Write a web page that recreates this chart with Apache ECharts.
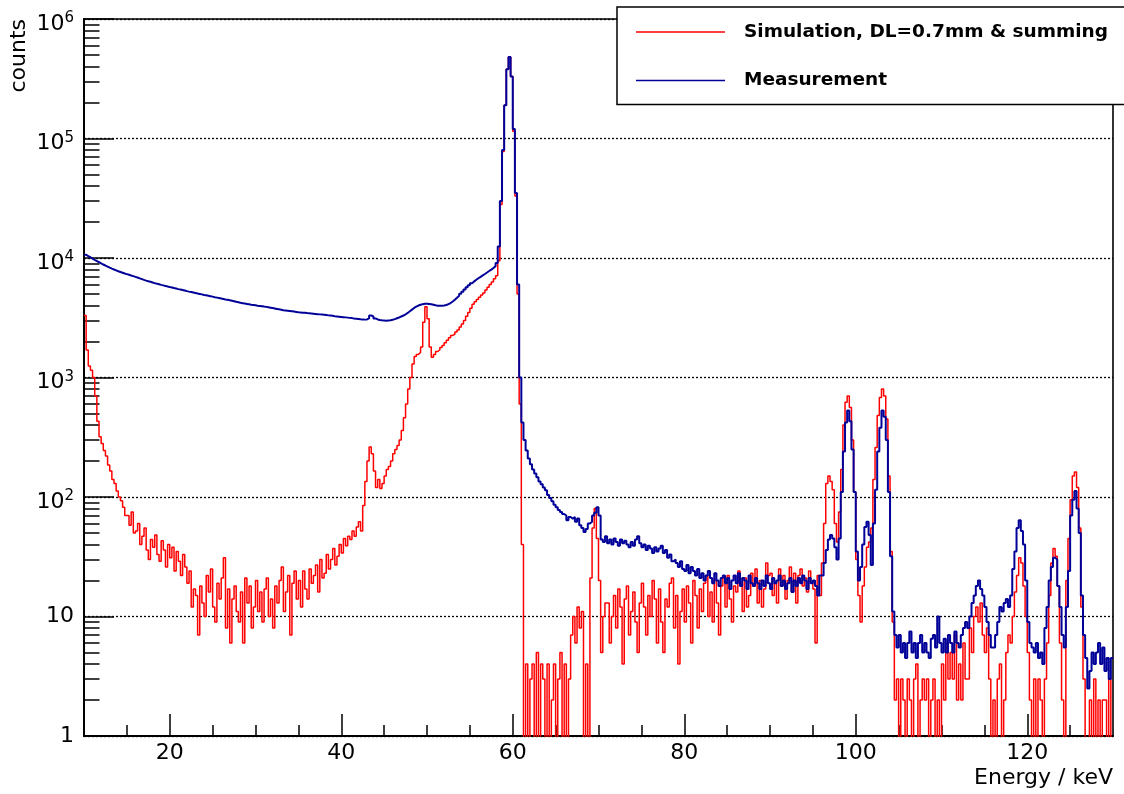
<!DOCTYPE html>
<html>
<head>
<meta charset="utf-8">
<script src="https://cdn.jsdelivr.net/npm/echarts@6/dist/echarts.min.js"></script>
<style>
html,body{margin:0;padding:0;background:#fff;}
#chart{width:1124px;height:794px;}
</style>
</head>
<body>
<div id="chart"></div>
<script>
// Histogram binning (keV): bins of 0.25 keV from 10 to 130
const binStart = 10;
const binWidth = 0.25;
const binEnd = 130;

// Simulation, DL=0.7mm & summing (counts per bin, 4 bins per keV row)
const simCounts = [
/*10*/ 3300,1700,1250,1150,
/*11*/ 1000,700,430,320,
/*12*/ 280,245,220,185,
/*13*/ 165,140,130,112,
/*14*/ 100,93,82,70,
/*15*/ 70,58,75,50,
/*16*/ 52,60,40,47,
/*17*/ 55,36,30,44,
/*18*/ 38,48,33,29,
/*19*/ 43,36,26,40,
/*20*/ 31,38,24,35,
/*21*/ 29,22,33,26,
/*22*/ 19,24,12,17,
/*23*/ 15,7,18,13,
/*24*/ 10,22,16,25,
/*25*/ 12,9,19,14,
/*26*/ 21,31,8,17,
/*27*/ 6,14,18,11,
/*28*/ 9,16,6,21,
/*29*/ 13,18,8,12,
/*30*/ 20,11,16,9,
/*31*/ 17,21,10,14,
/*32*/ 8,18,13,20,
/*33*/ 26,11,16,22,
/*34*/ 7,19,24,14,
/*35*/ 20,12,24,17,
/*36*/ 14,25,19,22,
/*37*/ 27,16,30,21,
/*38*/ 23,33,25,30,
/*39*/ 37,27,32,40,
/*40*/ 34,45,39,47,
/*41*/ 44,52,47,56,
/*42*/ 62,52,85,135,
/*43*/ 200,262,230,165,
/*44*/ 120,140,118,130,
/*45*/ 150,170,180,200,
/*46*/ 230,250,270,300,
/*47*/ 360,460,600,800,
/*48*/ 1000,1300,1500,1560,
/*49*/ 1620,1800,2900,3900,
/*50*/ 3100,1800,1480,1560,
/*51*/ 1650,1700,1780,1850,
/*52*/ 1950,2050,2150,2250,
/*53*/ 2300,2400,2500,2650,
/*54*/ 2800,3000,3250,3500,
/*55*/ 3800,4100,4300,4500,
/*56*/ 4700,4900,5100,5400,
/*57*/ 5700,6000,6300,6700,
/*58*/ 7100,9500,28000,78000,
/*59*/ 190000,380000,480000,330000,
/*60*/ 115000,33000,5000,600,
/*61*/ 40,0,4,0,
/*62*/ 3,4,0,5,
/*63*/ 0,4,3,0,
/*64*/ 4,0,2,4,
/*65*/ 0,3,5,0,
/*66*/ 4,0,3,7,
/*67*/ 10,6,12,8,
/*68*/ 11,0,4,0,
/*69*/ 21,55,80,45,
/*70*/ 20,5,10,13,
/*71*/ 13,6,10,15,
/*72*/ 8,17,12,4,
/*73*/ 14,18,7,11,
/*74*/ 16,9,5,13,
/*75*/ 19,12,7,15,
/*76*/ 10,20,14,6,
/*77*/ 17,9,5,14,
/*78*/ 12,19,21,8,
/*79*/ 15,4,11,17,
/*80*/ 9,18,13,6,
/*81*/ 20,15,8,17,
/*82*/ 11,19,22,10,
/*83*/ 16,9,20,13,
/*84*/ 7,18,21,12,
/*85*/ 22,14,9,18,
/*86*/ 16,24,19,11,
/*87*/ 21,12,15,23,
/*88*/ 18,25,13,20,
/*89*/ 12,17,28,22,
/*90*/ 23,15,19,13,
/*91*/ 25,18,22,14,
/*92*/ 20,26,16,23,
/*93*/ 13,22,25,18,
/*94*/ 21,16,24,19,
/*95*/ 17,6,22,15,
/*96*/ 28,60,130,150,
/*97*/ 135,115,60,42,
/*98*/ 75,170,400,620,
/*99*/ 700,560,300,110,
/*100*/ 30,15,9,18,
/*101*/ 26,38,42,55,
/*102*/ 140,260,480,680,
/*103*/ 800,700,450,150,
/*104*/ 35,9,2,3,
/*105*/ 0,3,2,0,
/*106*/ 3,2,0,3,
/*107*/ 4,0,2,3,
/*108*/ 2,3,0,2,
/*109*/ 3,0,2,0,
/*110*/ 4,2,6,3,
/*111*/ 5,3,7,2,
/*112*/ 4,2,6,3,
/*113*/ 3,8,5,10,
/*114*/ 12,9,13,7,
/*115*/ 5,8,3,0,
/*116*/ 2,0,3,4,
/*117*/ 0,2,5,7,
/*118*/ 6,10,16,22,
/*119*/ 31,28,18,10,
/*120*/ 5,2,0,3,
/*121*/ 0,3,2,0,
/*122*/ 3,6,15,28,
/*123*/ 37,32,18,6,
/*124*/ 2,0,20,45,
/*125*/ 95,150,162,120,
/*126*/ 55,12,3,0,
/*127*/ 0,2,0,3,
/*128*/ 0,2,0,2,
/*129*/ 2,0,3,0
];

// Measurement (counts per bin)
const measCounts = [
/*10*/ 10650,10380,10150,9880,
/*11*/ 9640,9430,9220,9010,
/*12*/ 8820,8650,8480,8300,
/*13*/ 8150,8010,7880,7750,
/*14*/ 7640,7530,7420,7330,
/*15*/ 7240,7140,7050,6950,
/*16*/ 6860,6760,6660,6560,
/*17*/ 6470,6390,6320,6240,
/*18*/ 6160,6100,6030,5960,
/*19*/ 5900,5840,5770,5710,
/*20*/ 5660,5600,5550,5490,
/*21*/ 5440,5390,5340,5280,
/*22*/ 5230,5190,5140,5090,
/*23*/ 5040,5000,4960,4910,
/*24*/ 4870,4830,4790,4750,
/*25*/ 4700,4660,4620,4580,
/*26*/ 4540,4500,4470,4430,
/*27*/ 4390,4350,4300,4260,
/*28*/ 4220,4190,4160,4130,
/*29*/ 4100,4070,4050,4020,
/*30*/ 3990,3970,3950,3920,
/*31*/ 3900,3870,3840,3810,
/*32*/ 3780,3750,3720,3690,
/*33*/ 3660,3640,3620,3600,
/*34*/ 3580,3560,3540,3520,
/*35*/ 3505,3490,3475,3460,
/*36*/ 3450,3435,3420,3405,
/*37*/ 3390,3375,3360,3345,
/*38*/ 3330,3310,3295,3280,
/*39*/ 3260,3245,3230,3215,
/*40*/ 3200,3185,3170,3155,
/*41*/ 3140,3120,3105,3090,
/*42*/ 3070,3060,3050,3060,
/*43*/ 3120,3300,3250,3120,
/*44*/ 3060,3030,3010,3000,
/*45*/ 2990,3000,3010,3040,
/*46*/ 3080,3130,3180,3240,
/*47*/ 3300,3380,3470,3580,
/*48*/ 3700,3820,3920,4000,
/*49*/ 4060,4110,4140,4150,
/*50*/ 4130,4100,4060,4020,
/*51*/ 3990,3980,3980,4000,
/*52*/ 4040,4110,4200,4330,
/*53*/ 4480,4650,4830,5020,
/*54*/ 5230,5450,5680,5910,
/*55*/ 6150,6370,6580,6770,
/*56*/ 6950,7150,7350,7560,
/*57*/ 7780,8000,8250,8550,
/*58*/ 9100,12500,30000,80000,
/*59*/ 190000,380000,480000,330000,
/*60*/ 120000,35000,6000,1000,
/*61*/ 420,300,245,210,
/*62*/ 188,170,157,146,
/*63*/ 135,128,120,114,
/*64*/ 104,98,92,86,
/*65*/ 82,78,75,72,
/*66*/ 70,64,68,66,
/*67*/ 68,62,66,58,
/*68*/ 55,51,54,60,
/*69*/ 62,70,74,82,
/*70*/ 70,44,42,47,
/*71*/ 41,44,40,45,
/*72*/ 42,39,44,41,
/*73*/ 43,40,38,42,
/*74*/ 39,44,47,41,
/*75*/ 38,40,36,39,
/*76*/ 37,34,38,35,
/*77*/ 37,39,34,36,
/*78*/ 31,33,29,30,
/*79*/ 28,26,29,25,
/*80*/ 24,27,23,26,
/*81*/ 24,22,25,21,
/*82*/ 23,20,22,24,
/*83*/ 21,19,23,20,
/*84*/ 18,21,22,19,
/*85*/ 21,17,20,22,
/*86*/ 19,23,18,21,
/*87*/ 20,17,22,19,
/*88*/ 18,21,19,17,
/*89*/ 20,18,22,19,
/*90*/ 17,21,19,20,
/*91*/ 22,18,20,17,
/*92*/ 19,21,16,20,
/*93*/ 18,21,19,22,
/*94*/ 20,17,21,19,
/*95*/ 20,18,15,22,
/*96*/ 22,28,36,44,
/*97*/ 48,45,38,30,
/*98*/ 45,110,240,420,
/*99*/ 530,430,250,110,
/*100*/ 35,20,26,40,
/*101*/ 56,62,48,27,
/*102*/ 60,115,240,380,
/*103*/ 530,470,300,110,
/*104*/ 32,11,7,5.5,
/*105*/ 7,5,6,4.5,
/*106*/ 6,7.5,5,6,
/*107*/ 4.5,6,7,5,
/*108*/ 6,5,4.5,6.5,
/*109*/ 7,5.5,10,6,
/*110*/ 5,6.5,5,7,
/*111*/ 6,5,7.5,6,
/*112*/ 5.5,7,8,9,
/*113*/ 8,10,13,15,
/*114*/ 18,20,17,15,
/*115*/ 12,9,7,5.5,
/*116*/ 5.5,7,9,12,
/*117*/ 11,13,14,12,
/*118*/ 15,25,35,55,
/*119*/ 64,52,40,20,
/*120*/ 9,6,5.5,5,
/*121*/ 6,4.5,5,4,
/*122*/ 8,12,20,26,
/*123*/ 31,30,18,12,
/*124*/ 7,5.5,12,24,
/*125*/ 70,95,112,80,
/*126*/ 50,15,7,4.5,
/*127*/ 2.5,3.5,5,4,
/*128*/ 5,6,4,5.5,
/*129*/ 3.5,4.5,3,4.5
];

const seriesNames = ['Simulation, DL=0.7mm & summing', 'Measurement'];
const xMajorTicks = [20, 40, 60, 80, 100, 120];
const xMinorTicks = [15,20,25,30,35,40,45,50,55,60,65,70,75,80,85,90,95,100,105,110,115,120,125];
const yMin = 1, yMax = 1000000;

// Empty bins are drawn down to the bottom of the frame (below axis min, clipped)
const EMPTY_FLOOR = 0.3;
function histData(counts) {
  const d = counts.map((c, i) => [binStart + i * binWidth, c > 0 ? c : EMPTY_FLOOR]);
  const last = counts[counts.length - 1];
  d.push([binEnd, last > 0 ? last : EMPTY_FLOOR]);
  return d;
}

// log-axis minor tick positions (exponent space) for helper axis
const yMinorTicks = [];
for (let d = 0; d < 6; d++) for (let k = 2; k <= 9; k++) yMinorTicks.push(d + Math.log10(k));

const FONT = 'DejaVu Sans';
const chart = echarts.init(document.getElementById('chart'), null, {renderer: 'canvas'});

const option = {
  animation: false,
  backgroundColor: '#ffffff',
  grid: {left: 84, top: 19, width: 1029, height: 717, show: true, borderColor: '#000', borderWidth: 1.6, backgroundColor: 'transparent'},
  legend: {
    left: 617, top: 7, orient: 'vertical',
    padding: [15, 30, 14, 19],
    icon: 'rect',
    itemWidth: 89, itemHeight: 1.6, itemGap: 28.5,
    backgroundColor: '#ffffff', borderColor: '#000', borderWidth: 1.5,
    textStyle: {fontFamily: FONT, fontWeight: 'bold', fontSize: 18.5, color: '#000', lineHeight: 20, padding: [0, 0, 0, 14]},
    data: seriesNames,
    z: 10
  },
  xAxis: [
    {
      type: 'value', min: 10, max: 130, position: 'bottom',
      axisLine: {show: true, onZero: false, lineStyle: {color: '#000', width: 2}},
      axisTick: {show: true, inside: true, length: 11, lineStyle: {color: '#000', width: 1.5}, customValues: xMinorTicks},
      axisLabel: {show: true, customValues: xMajorTicks, margin: 6, fontFamily: FONT, fontSize: 22, color: '#000'},
      splitLine: {show: false}
    },
    {
      type: 'value', min: 10, max: 130, position: 'bottom',
      axisLine: {show: false},
      axisTick: {show: true, inside: true, length: 22, lineStyle: {color: '#000', width: 1.5}, customValues: xMajorTicks},
      axisLabel: {show: false},
      splitLine: {show: false}
    }
  ],
  yAxis: [
    {
      type: 'log', logBase: 10, min: yMin, max: yMax, position: 'left',
      axisLine: {show: true, onZero: false, lineStyle: {color: '#000', width: 2}},
      axisTick: {show: true, inside: true, length: 30, lineStyle: {color: '#000', width: 1.5}},
      minorTick: {show: false},
      axisLabel: {
        margin: 10, fontFamily: FONT, fontSize: 22, color: '#000',
        formatter: function (v) {
          const e = Math.round(Math.log10(v));
          if (e === 0) return '1';
          if (e === 1) return '10';
          return '{b|10}{s|' + e + '}';
        },
        rich: {
          b: {fontFamily: FONT, fontSize: 22, lineHeight: 22, color: '#000', padding: [10, 0, 0, 0]},
          s: {fontFamily: FONT, fontSize: 15, lineHeight: 15, color: '#000', padding: [8, 0, 9, 0]}
        }
      },
      splitLine: {show: true, lineStyle: {color: '#000', width: 1.3, type: [2, 2]}}
    },
    {
      type: 'value', min: 0, max: 6, position: 'left',
      axisLine: {show: false},
      axisTick: {show: true, inside: true, length: 15.5, lineStyle: {color: '#000', width: 1.5}, customValues: yMinorTicks},
      axisLabel: {show: false},
      splitLine: {show: false}
    }
  ],
  series: [
    {
      name: seriesNames[0], type: 'line', xAxisIndex: 0, yAxisIndex: 0,
      data: histData(simCounts), step: 'end', symbol: 'none', showSymbol: false,
      clip: true, silent: true, sampling: null,
      lineStyle: {color: '#ff0000', width: 1.5}, itemStyle: {color: '#ff0000'}, z: 3
    },
    {
      name: seriesNames[1], type: 'line', xAxisIndex: 0, yAxisIndex: 0,
      data: histData(measCounts), step: 'end', symbol: 'none', showSymbol: false,
      clip: true, silent: true, sampling: null,
      lineStyle: {color: '#000099', width: 2}, itemStyle: {color: '#000099'}, z: 4
    }
  ],
  graphic: [
    {type: 'text', x: 19, y: 19, rotation: Math.PI / 2, z: 20,
     style: {text: 'counts', fontFamily: FONT, fontSize: 22, fill: '#000', align: 'right', verticalAlign: 'middle'}},
    {type: 'text', x: 1113, y: 778, z: 20,
     style: {text: 'Energy / keV', fontFamily: FONT, fontSize: 22, fill: '#000', align: 'right', verticalAlign: 'middle'}}
  ]
};
chart.setOption(option);
</script>
</body>
</html>
